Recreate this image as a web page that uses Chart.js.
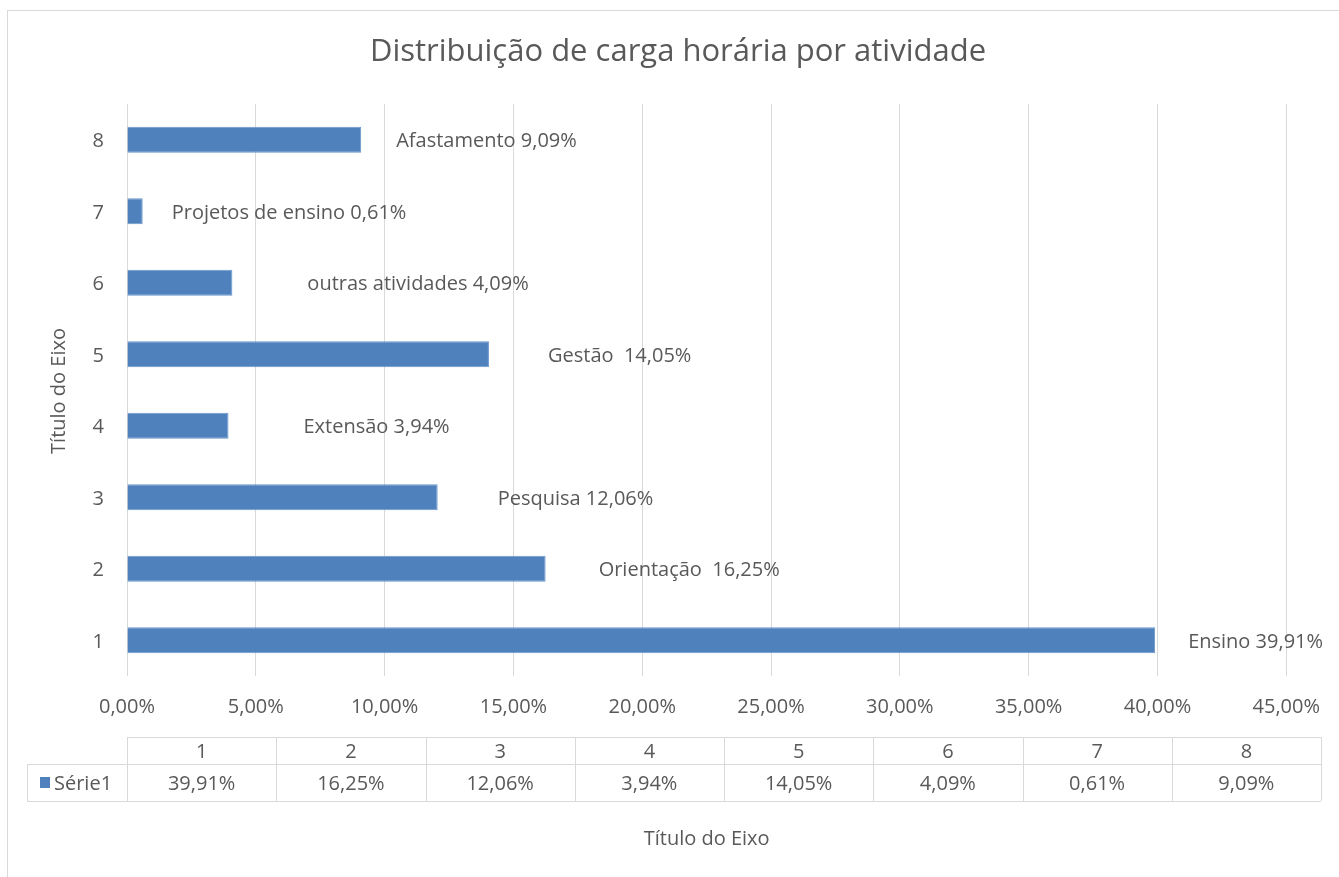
<!DOCTYPE html>
<html>
<head>
<meta charset="utf-8">
<script src="https://cdn.jsdelivr.net/npm/chart.js@4"></script>
<style>
  html, body { margin: 0; padding: 0; background: #fff; }
  #wrap { width: 1339px; height: 877px; }
</style>
</head>
<body>
<div id="wrap"><canvas id="chart" width="1339" height="877"></canvas></div>
<script>
// Chart data
const categories = ["1", "2", "3", "4", "5", "6", "7", "8"];
const activityNames = ["Ensino", "Orientação ", "Pesquisa", "Extensão", "Gestão ", "outras atividades", "Projetos de ensino", "Afastamento"];
const serie1 = [39.91, 16.25, 12.06, 3.94, 14.05, 4.09, 0.61, 9.09];
const xTicks = [0, 5, 10, 15, 20, 25, 30, 35, 40, 45];

// label gap from bar end (px), as placed by hand in the original
const labelGaps = [33, 53, 60, 75, 59, 75, 29, 35];

const FONT = "'Open Sans', Lato, sans-serif";
const SIZE = 20;
const TEXT = "#595959";
const GRID = "#d9d9d9";
const BLUE = "#4f81bd";

const fmtPct = (v) => v.toFixed(2).replace(".", ",") + "%";

const decorPlugin = {
  id: "decor",
  beforeDraw(chart) {
    const ctx = chart.ctx;
    ctx.save();
    ctx.fillStyle = "#fff";
    ctx.fillRect(0, 0, chart.width, chart.height);
    // outer frame
    ctx.strokeStyle = GRID;
    ctx.lineWidth = 1;
    ctx.strokeRect(7.5, 10.5, chart.width + 20, chart.height + 20);
    ctx.restore();
  },
  afterDraw(chart) {
    const ctx = chart.ctx;
    const area = chart.chartArea;
    ctx.save();
    ctx.fillStyle = TEXT;

    // title
    ctx.font = "31px " + FONT;
    ctx.textAlign = "center";
    ctx.textBaseline = "middle";
    ctx.fillText("Distribuição de carga horária por atividade", 678, 52);

    // y axis title
    ctx.save();
    ctx.translate(59, 391);
    ctx.rotate(-Math.PI / 2);
    ctx.font = SIZE + "px " + FONT;
    ctx.fillText("Título do Eixo", 0, 0);
    ctx.restore();

    // x axis title
    ctx.font = SIZE + "px " + FONT;
    ctx.fillText("Título do Eixo", (area.left + area.right) / 2, 839);

    // data table
    const tLeft = area.left, tRight = 1321, legLeft = 27;
    const r0 = 737, r1 = 764, r2 = 801;
    const colW = (tRight - tLeft) / categories.length;
    ctx.strokeStyle = GRID;
    ctx.lineWidth = 1;
    ctx.beginPath();
    ctx.moveTo(tLeft, r0 + 0.5); ctx.lineTo(tRight, r0 + 0.5);
    ctx.moveTo(legLeft, r1 + 0.5); ctx.lineTo(tRight, r1 + 0.5);
    ctx.moveTo(legLeft, r2 + 0.5); ctx.lineTo(tRight, r2 + 0.5);
    ctx.moveTo(legLeft + 0.5, r1); ctx.lineTo(legLeft + 0.5, r2);
    for (let i = 0; i <= categories.length; i++) {
      const x = Math.round(tLeft + i * colW) + 0.5;
      ctx.moveTo(x, r0); ctx.lineTo(x, r2);
    }
    ctx.stroke();

    ctx.font = SIZE + "px " + FONT;
    ctx.fillStyle = TEXT;
    ctx.textAlign = "center";
    categories.forEach((c, i) => {
      const cx = tLeft + (i + 0.5) * colW;
      ctx.fillText(c, cx, (r0 + r1) / 2 + 2);
      ctx.fillText(fmtPct(serie1[i]), cx, (r1 + r2) / 2 + 2);
    });
    // legend key
    ctx.fillStyle = BLUE;
    ctx.fillRect(40, 777, 10, 11);
    ctx.fillStyle = TEXT;
    ctx.textAlign = "left";
    ctx.fillText("Série1", 54, (r1 + r2) / 2 + 2);

    // data labels
    const meta = chart.getDatasetMeta(0);
    ctx.textAlign = "left";
    ctx.textBaseline = "middle";
    meta.data.forEach((bar, i) => {
      ctx.fillText(activityNames[i] + " " + fmtPct(serie1[i]), bar.x + labelGaps[i], bar.y + 2);
    });
    ctx.restore();
  }
};

new Chart(document.getElementById("chart"), {
  type: "bar",
  data: {
    labels: categories,
    datasets: [{
      label: "Série1",
      data: serie1,
      backgroundColor: BLUE,
      borderColor: "#6a96cc",
      borderWidth: 1,
      barPercentage: 0.365,
      categoryPercentage: 1
    }]
  },
  options: {
    indexAxis: "y",
    responsive: false,
    animation: false,
    devicePixelRatio: 1,
    layout: { padding: { left: 0, top: 104, right: 52, bottom: 0 } },
    plugins: {
      legend: { display: false },
      title: { display: false },
      tooltip: { enabled: false }
    },
    scales: {
      x: {
        min: 0,
        max: 45,
        afterBuildTicks: (scale) => { scale.ticks = xTicks.map((v) => ({ value: v })); },
        afterFit: (scale) => { scale.height = 201; },
        grid: { color: GRID, lineWidth: 1, drawTicks: false },
        border: { display: false },
        ticks: {
          padding: 19,
          color: TEXT,
          font: { family: FONT, size: SIZE },
          callback: (v) => fmtPct(v)
        }
      },
      y: {
        reverse: true,
        afterFit: (scale) => { scale.width = 127; },
        grid: { display: false, drawTicks: false },
        border: { display: false },
        ticks: {
          padding: 23,
          labelOffset: 2,
          color: TEXT,
          font: { family: FONT, size: SIZE }
        }
      }
    }
  },
  plugins: [decorPlugin]
});
</script>
</body>
</html>
